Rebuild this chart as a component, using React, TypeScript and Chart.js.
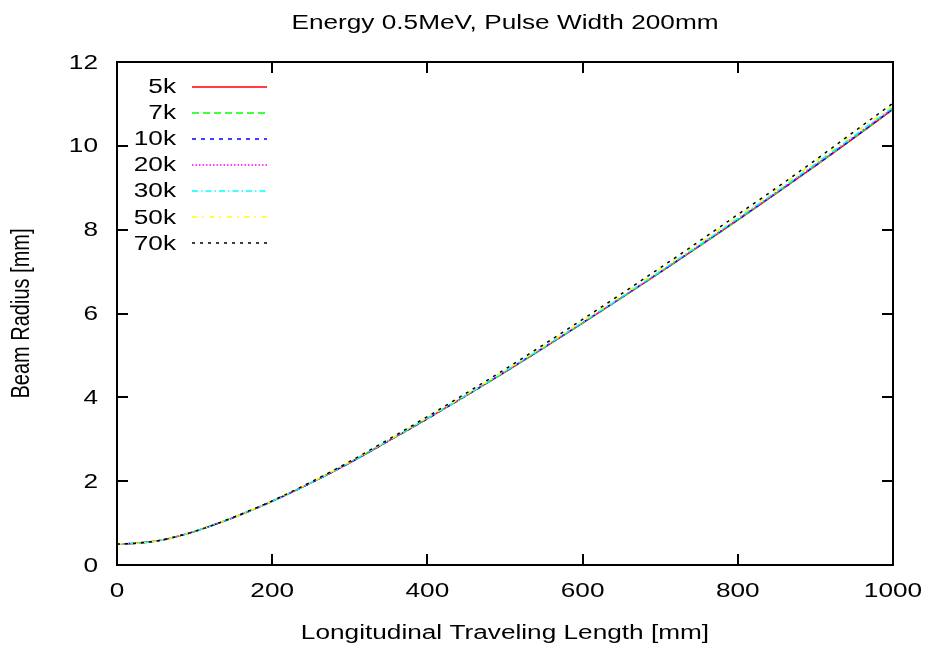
import { useEffect, useRef } from "react";
import { Chart, registerables } from "chart.js";

Chart.register(...registerables);

const titleText = "Energy 0.5MeV, Pulse Width 200mm";
const xTitle = "Longitudinal Traveling Length [mm]";
const yTitle = "Beam Radius [mm]";

const seriesLabels = ["5k", "7k", "10k", "20k", "30k", "50k", "70k"];

const zValues = [0, 25, 50, 75, 100, 125, 150, 200, 250, 300, 350, 400, 450, 500, 550, 600, 650, 700, 750, 800, 850, 900, 950, 1000];

const r5k = [0.5, 0.52, 0.57, 0.67, 0.8, 0.96, 1.13, 1.52, 1.96, 2.44, 2.96, 3.49, 4.04, 4.6, 5.18, 5.77, 6.37, 6.98, 7.6, 8.23, 8.87, 9.52, 10.19, 10.87];
const r7k = [0.5, 0.52, 0.57, 0.67, 0.8, 0.96, 1.13, 1.52, 1.96, 2.44, 2.96, 3.49, 4.04, 4.6, 5.18, 5.77, 6.37, 6.98, 7.6, 8.23, 8.88, 9.53, 10.2, 10.88];
const r10k = [0.5, 0.52, 0.57, 0.67, 0.8, 0.96, 1.13, 1.52, 1.96, 2.44, 2.96, 3.49, 4.04, 4.61, 5.19, 5.78, 6.38, 6.99, 7.61, 8.24, 8.88, 9.53, 10.2, 10.88];
const r20k = [0.5, 0.52, 0.57, 0.67, 0.8, 0.96, 1.13, 1.52, 1.96, 2.44, 2.96, 3.5, 4.05, 4.61, 5.19, 5.78, 6.38, 6.99, 7.62, 8.25, 8.89, 9.55, 10.22, 10.9];
const r30k = [0.5, 0.52, 0.57, 0.67, 0.8, 0.96, 1.13, 1.52, 1.96, 2.45, 2.97, 3.5, 4.05, 4.62, 5.2, 5.79, 6.39, 7.01, 7.63, 8.27, 8.91, 9.57, 10.24, 10.92];
const r50k = [0.5, 0.52, 0.57, 0.67, 0.8, 0.96, 1.13, 1.53, 1.97, 2.46, 2.98, 3.52, 4.07, 4.64, 5.22, 5.82, 6.43, 7.05, 7.68, 8.31, 8.96, 9.62, 10.29, 10.96];
const r70k = [0.5, 0.52, 0.57, 0.67, 0.8, 0.96, 1.14, 1.53, 1.98, 2.47, 3.0, 3.54, 4.1, 4.67, 5.26, 5.86, 6.47, 7.09, 7.72, 8.36, 9.0, 9.66, 10.34, 11.02];

const seriesValues = [r5k, r7k, r10k, r20k, r30k, r50k, r70k];
const seriesColors = ["#ff0000", "#00ff00", "#0000ff", "#ff00ff", "#00ffff", "#ffff00", "#000000"];
const seriesDashes: number[][] = [[], [7, 4], [4, 5], [1.5, 2], [6, 3, 1.5, 3], [5, 5, 1.5, 6], [3, 5]];

const xTicks = [0, 200, 400, 600, 800, 1000];
const yTicks = [0, 2, 4, 6, 8, 10, 12];

const FONT = "'Liberation Sans', Arial, sans-serif";
const FS = 20; // font size (vertical)
const SX = 1.31; // horizontal stretch of the reference's text

function stretchedText(ctx: CanvasRenderingContext2D, text: string, x: number, y: number, align: CanvasTextAlign) {
  ctx.save();
  ctx.translate(x, y);
  ctx.scale(SX, 1);
  ctx.textAlign = align;
  ctx.fillText(text, 0, 0);
  ctx.restore();
}

const framePlugin = {
  id: "gnuframe",
  afterDatasetsDraw(chart: any) {
    const { ctx, chartArea } = chart;
    const { left, right, top, bottom } = chartArea;
    const xs = chart.scales.x;
    const ys = chart.scales.y;
    ctx.save();
    ctx.setLineDash([]);
    ctx.strokeStyle = "#000";
    ctx.lineWidth = 2;
    ctx.strokeRect(left, top, right - left, bottom - top);
    const tl = 11;
    ctx.beginPath();
    xTicks.forEach((v) => {
      const px = Math.round(xs.getPixelForValue(v));
      ctx.moveTo(px, bottom);
      ctx.lineTo(px, bottom - tl);
      ctx.moveTo(px, top);
      ctx.lineTo(px, top + tl);
    });
    yTicks.forEach((v) => {
      const py = Math.round(ys.getPixelForValue(v));
      ctx.moveTo(left, py);
      ctx.lineTo(left + tl, py);
      ctx.moveTo(right, py);
      ctx.lineTo(right - tl, py);
    });
    ctx.stroke();

    ctx.fillStyle = "#000";
    ctx.font = `${FS}px ${FONT}`;
    ctx.textBaseline = "middle";

    // tick labels
    xTicks.forEach((v) => {
      stretchedText(ctx, String(v), xs.getPixelForValue(v), bottom + 26, "center");
    });
    yTicks.forEach((v) => {
      stretchedText(ctx, String(v), left - 19, ys.getPixelForValue(v) + 1, "right");
    });

    // titles
    const cx = (left + right) / 2;
    stretchedText(ctx, titleText, cx, 23, "center");
    stretchedText(ctx, xTitle, cx, 633, "center");
    ctx.save();
    ctx.translate(22, (top + bottom) / 2);
    ctx.scale(SX, 1);
    ctx.rotate(-Math.PI / 2);
    ctx.textAlign = "center";
    ctx.fillText(yTitle, 0, 0);
    ctx.restore();

    // legend
    seriesLabels.forEach((lab, i) => {
      const yy = top + 24.5 + i * 26.1;
      ctx.setLineDash([]);
      stretchedText(ctx, lab, left + 59, yy + 1, "right");
      ctx.beginPath();
      ctx.strokeStyle = seriesColors[i];
      ctx.lineWidth = 1.6;
      ctx.setLineDash(seriesDashes[i]);
      ctx.moveTo(left + 75, Math.round(yy));
      ctx.lineTo(left + 150, Math.round(yy));
      ctx.stroke();
    });
    ctx.restore();
  },
};

export default function App() {
  const ref = useRef<HTMLCanvasElement>(null);
  useEffect(() => {
    if (!ref.current) return;
    const datasets = seriesLabels.map((lab, i) => ({
      label: lab,
      data: zValues.map((z, k) => ({ x: z, y: seriesValues[i][k] })),
      borderColor: seriesColors[i],
      backgroundColor: seriesColors[i],
      borderDash: seriesDashes[i],
      borderWidth: 1.5,
      pointRadius: 0,
      fill: false,
      cubicInterpolationMode: "monotone" as const,
      order: seriesLabels.length - i,
    }));
    const chart = new Chart(ref.current, {
      type: "line",
      data: { datasets },
      options: {
        animation: false,
        responsive: false,
        devicePixelRatio: 1,
        layout: { padding: { left: 117, right: 37, top: 62, bottom: 81 } },
        plugins: {
          legend: { display: false },
          tooltip: { enabled: false },
          title: { display: false },
        },
        scales: {
          x: { type: "linear", min: 0, max: 1000, display: false },
          y: { type: "linear", min: 0, max: 12, display: false },
        },
      },
      plugins: [framePlugin],
    });
    return () => chart.destroy();
  }, []);
  return (
    <div style={{ position: "absolute", left: 0, top: 0, width: 930, height: 646, background: "#fff" }}>
      <canvas ref={ref} width={930} height={646} style={{ display: "block" }} />
    </div>
  );
}
